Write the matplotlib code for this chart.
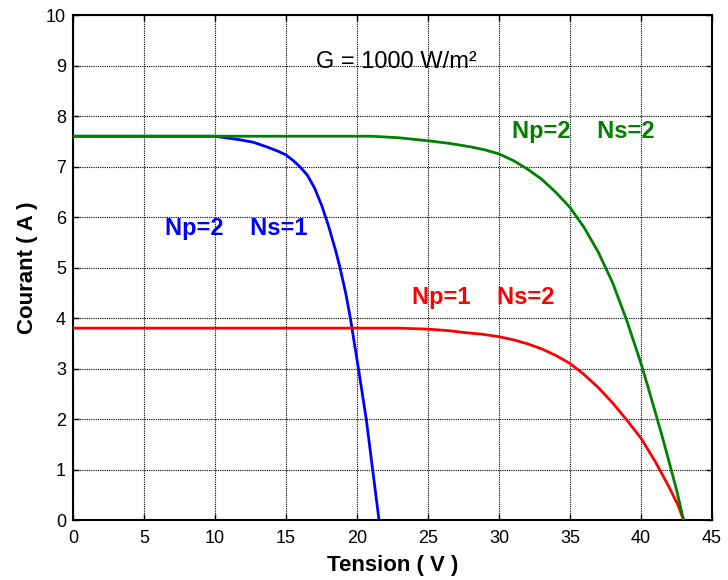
import matplotlib
matplotlib.use("Agg")
import matplotlib.pyplot as plt

plt.rcParams['font.family'] = ['Liberation Sans', 'DejaVu Sans']

# I-V characteristic, Np=2 / Ns=1
v_np2_ns1 = [0, 5, 10, 10.47, 11.76, 12.7, 13.64, 14.46, 15.0, 15.5, 16.0, 16.5, 17.0,
             17.5, 18.0, 18.5, 18.8, 19.2, 19.5, 20.1, 20.65, 21.1, 21.55]
i_np2_ns1 = [7.6, 7.6, 7.6, 7.58, 7.53, 7.48, 7.39, 7.30, 7.23, 7.12, 6.99, 6.83, 6.58,
             6.24, 5.82, 5.33, 5.0, 4.5, 4.05, 3.0, 2.0, 1.0, 0.0]

# I-V characteristic, Np=1 / Ns=2
v_np1_ns2 = [0, 10, 20, 22.93, 25.0, 26.46, 27.64, 28.8, 30.0, 31.0, 32.0, 33.0, 34.0,
             35.0, 36.0, 37.0, 38.0, 39.0, 40.0, 41.0, 42.0, 42.6, 43.0]
i_np1_ns2 = [3.8, 3.8, 3.8, 3.8, 3.78, 3.75, 3.71, 3.68, 3.63, 3.57, 3.49, 3.39, 3.26,
             3.10, 2.88, 2.62, 2.32, 1.98, 1.62, 1.16, 0.64, 0.30, 0.0]

# I-V characteristic, Np=2 / Ns=2
v_np2_ns2 = [0, 10, 20, 21.0, 22.93, 25.0, 26.46, 28.0, 29.0, 30.0, 31.0, 32.0, 33.0,
             34.0, 35.0, 36.0, 37.0, 38.0, 39.0, 40.0, 40.5, 41.0, 41.5, 42.0, 42.5, 43.0]
i_np2_ns2 = [7.6, 7.6, 7.6, 7.6, 7.57, 7.51, 7.46, 7.39, 7.33, 7.25, 7.12, 6.95, 6.75,
             6.49, 6.19, 5.79, 5.30, 4.70, 3.95, 3.10, 2.63, 2.14, 1.65, 1.13, 0.6, 0.0]

x_ticks = [0, 5, 10, 15, 20, 25, 30, 35, 40, 45]
y_ticks = [0, 1, 2, 3, 4, 5, 6, 7, 8, 9, 10]

fig = plt.figure(figsize=(7.28, 5.8), dpi=100)
ax = fig.add_axes([0.1003, 0.1034, 0.8777, 0.8707])

lw = 2.0
ax.plot(v_np2_ns1, i_np2_ns1, color='#0000ff', lw=lw, zorder=3)
ax.plot(v_np1_ns2, i_np1_ns2, color='#ff0000', lw=lw, zorder=3)
ax.plot(v_np2_ns2, i_np2_ns2, color='#008000', lw=lw, zorder=4)

ax.set_xlim(0, 45)
ax.set_ylim(0, 10)
ax.set_xticks(x_ticks)
ax.set_yticks(y_ticks)
ax.tick_params(direction='in', length=4, width=1, top=True, right=True,
               labelsize=13, pad=5)
ax.tick_params(axis='x', pad=7)
ax.grid(True, color='black', linestyle=(0, (1, 1)), linewidth=0.8)
for s in ax.spines.values():
    s.set_linewidth(1.5)

ax.set_xlabel('Tension ( V )', fontsize=16, fontweight='bold', labelpad=6)
ax.set_ylabel('Courant ( A )', fontsize=16, fontweight='bold', labelpad=6)

ax.text(22.8, 9.07, 'G = 1000 W/m²', fontsize=17, ha='center', va='center')
ax.text(30.9, 7.7, 'Np=2    Ns=2', fontsize=17, fontweight='bold', color='#008000', ha='left', va='center')
ax.text(6.5, 5.78, 'Np=2    Ns=1', fontsize=17, fontweight='bold', color='#0000ff', ha='left', va='center')
ax.text(23.9, 4.4, 'Np=1    Ns=2', fontsize=17, fontweight='bold', color='#ff0000', ha='left', va='center')

fig.savefig('out.png', dpi=100)
